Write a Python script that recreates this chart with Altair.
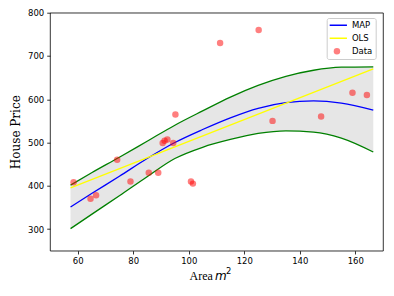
import altair as alt
import pandas as pd

# ---- data ----
area = [58.5, 64.6, 66.6, 74.2, 79.0, 85.6, 89.0, 90.6, 91.3, 92.3, 94.4, 95.2,
        100.8, 101.5, 111.3, 125.2, 130.2, 147.7, 159.0, 164.2]
price = [408, 370, 378, 460, 410, 430, 430, 499, 504, 507, 499, 565,
         410, 405, 730, 760, 550, 560, 615, 610]

curve_x = [57.4, 65, 75, 85, 95, 105, 115, 125, 135, 145, 155, 166.5]
map_y = [351, 382, 422, 463, 500, 530, 557, 579, 592, 596, 591, 575]
upper_y = [401.6, 430, 466, 503, 540, 573, 605, 632, 653, 667, 674, 675]
lower_y = [301, 334, 377, 421, 463, 489, 507, 521, 527, 524, 510, 478]

ols_x = [57.4, 166.5]
ols_y = [395, 670]

series_names = ["MAP", "OLS", "Data"]
series_colors = ["#0000ff", "#ffff00", "rgba(255,0,0,0.5)"]

x_ticks = [60, 80, 100, 120, 140, 160]
y_ticks = [300, 400, 500, 600, 700, 800]

W, H = 333, 238

pts = pd.DataFrame({"area": area, "price": price, "series": "Data"})
curves = pd.DataFrame({"area": curve_x, "map": map_y, "upper": upper_y,
                       "lower": lower_y, "series": "MAP"})
ols = pd.DataFrame({"area": ols_x, "price": ols_y, "series": "OLS"})

x_scale = alt.Scale(domain=[50, 170], nice=False, zero=False)
y_scale = alt.Scale(domain=[250, 800], nice=False, zero=False)

x_axis = alt.Axis(values=x_ticks, title="Area", titleFont="Liberation Serif",
                  titleFontSize=12, titleFontWeight="normal", titleColor="black",
                  titleAlign="left", titleBaseline="alphabetic",
                  titleX=139, titleY=29, labelFlush=False)
y_axis = alt.Axis(values=y_ticks, title="House Price", titleFont="DejaVu Serif",
                  titleFontSize=12, titleFontWeight="normal", titleColor="black",
                  titleAlign="center", titleBaseline="alphabetic", titleAngle=270,
                  titleX=-31, titleY=H / 2, labelFlush=False)

# legend handle shapes: a thin bar for the lines, a circle for the data
line_handle = "M-3.09,-0.22H3.09V0.22H-3.09Z"
shape_range = [line_handle, line_handle, "circle"]

legend = alt.Legend(
    title=None, orient="none", legendX=276.7, legendY=5.3, direction="vertical",
    symbolSize=42, symbolStrokeWidth=0, symbolOffset=3, symbolOpacity=1,
    labelFont="DejaVu Sans", labelFontSize=8.5, labelColor="black", labelOffset=10.7,
    padding=3, rowPadding=4, clipHeight=8.5,
    strokeColor="#cccccc", fillColor="rgba(255,255,255,0.8)", cornerRadius=2,
)
color_scale = alt.Scale(domain=series_names, range=series_colors)
color = alt.Color("series:N", scale=color_scale, legend=legend)

x_enc = alt.X("area:Q", scale=x_scale, axis=x_axis)

band = alt.Chart(curves).mark_area(color="#e6e6e6", interpolate="monotone").encode(
    x=x_enc, y=alt.Y("upper:Q", scale=y_scale, axis=y_axis), y2="lower:Q")
up_line = alt.Chart(curves).mark_line(color="#008000", strokeWidth=1.3,
                                      interpolate="monotone").encode(
    x=x_enc, y=alt.Y("upper:Q", scale=y_scale, axis=y_axis))
lo_line = alt.Chart(curves).mark_line(color="#008000", strokeWidth=1.3,
                                      interpolate="monotone").encode(
    x=x_enc, y=alt.Y("lower:Q", scale=y_scale, axis=y_axis))
map_line = alt.Chart(curves).mark_line(strokeWidth=1.3, interpolate="monotone").encode(
    x=x_enc, y=alt.Y("map:Q", scale=y_scale, axis=y_axis), color=color)
ols_line = alt.Chart(ols).mark_line(strokeWidth=1.3).encode(
    x=x_enc, y=alt.Y("price:Q", scale=y_scale, axis=y_axis), color=color)
points = alt.Chart(pts).mark_point(filled=True, size=42, opacity=1, strokeWidth=0).encode(
    x=x_enc, y=alt.Y("price:Q", scale=y_scale, axis=y_axis),
    color=color,
    shape=alt.Shape("series:N", scale=alt.Scale(domain=series_names, range=shape_range),
                    legend=legend))

m_txt = alt.Chart(pd.DataFrame({"t": ["m"]})).mark_text(
    font="DejaVu Sans", fontStyle="italic", fontSize=12, align="left",
    baseline="alphabetic", color="black").encode(
    x=alt.value(165), y=alt.value(H + 29), text="t:N")
sup_txt = alt.Chart(pd.DataFrame({"t": ["2"]})).mark_text(
    font="DejaVu Sans", fontSize=8.4, align="left",
    baseline="alphabetic", color="black").encode(
    x=alt.value(176), y=alt.value(H + 23), text="t:N")

chart = alt.layer(band, up_line, lo_line, map_line, ols_line, points, m_txt, sup_txt).properties(
    width=W, height=H,
    autosize=alt.AutoSizeParams(type="none"),
    padding={"left": 42, "top": 4.7, "right": 3, "bottom": 37},
).configure_view(stroke="black", strokeWidth=0.8).configure_axis(
    domain=False, grid=False, tickColor="black", tickSize=3.3, tickWidth=0.8,
    labelFont="DejaVu Sans", labelFontSize=8.5, labelColor="black", labelPadding=3,
)

chart.save("out.html", embed_options={"renderer": "svg", "actions": False})
